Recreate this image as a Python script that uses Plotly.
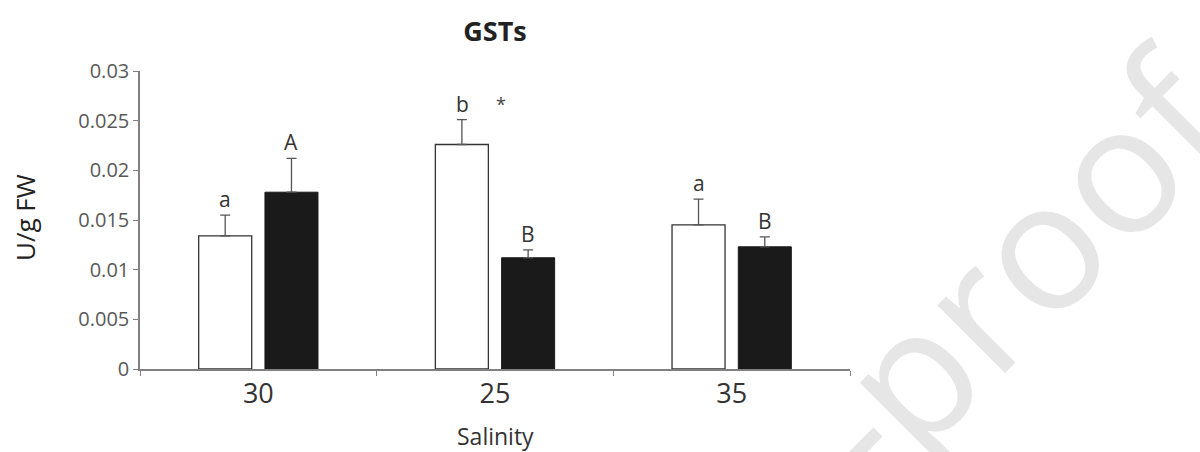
import plotly.graph_objects as go

categories = ["30", "25", "35"]
white_values = [0.0134, 0.0226, 0.0145]
white_errors = [0.0021, 0.0025, 0.0026]
black_values = [0.0178, 0.0112, 0.0123]
black_errors = [0.0034, 0.0008, 0.0010]
white_letters = ["a", "b", "a"]
black_letters = ["A", "B", "B"]
star_category = "25"
y_ticks = [0, 0.005, 0.01, 0.015, 0.02, 0.025, 0.03]
y_tick_labels = ["0", "0.005", "0.01", "0.015", "0.02", "0.025", "0.03"]

FONT = "Open Sans"
fig = go.Figure()
fig.add_trace(go.Bar(
    x=categories, y=white_values, name="white",
    marker=dict(color="white", line=dict(color="#333333", width=1.3)),
    error_y=dict(type="data", array=white_errors, arrayminus=[0]*3, symmetric=False,
                 color="#555555", thickness=1.3, width=5),
))
fig.add_trace(go.Bar(
    x=categories, y=black_values, name="black",
    marker=dict(color="#1a1a1a", line=dict(color="#1a1a1a", width=1)),
    error_y=dict(type="data", array=black_errors, arrayminus=[0]*3, symmetric=False,
                 color="#555555", thickness=1.3, width=5),
))

slot_px = 33
ann = []
for i, c in enumerate(categories):
    ann.append(dict(x=i, y=white_values[i] + white_errors[i], xref="x", yref="y",
                    text=white_letters[i], showarrow=False, xshift=-slot_px, yanchor="bottom",
                    font=dict(family=FONT, size=21, color="#333333")))
    ann.append(dict(x=i, y=black_values[i] + black_errors[i], xref="x", yref="y",
                    text=black_letters[i], showarrow=False, xshift=slot_px, yanchor="bottom",
                    font=dict(family=FONT, size=21, color="#333333")))
si = categories.index(star_category)
ann.append(dict(x=si, y=white_values[si] + white_errors[si], xref="x", yref="y",
                text="*", showarrow=False, xshift=6, yanchor="bottom", yshift=2,
                font=dict(family=FONT, size=18, color="#444444")))
# axis titles
ann.append(dict(x=(25 - 140) / 710, y=(369 - 218) / 298, xref="paper", yref="paper",
                text="U/g FW", textangle=-90, showarrow=False, xanchor="center", yanchor="middle",
                font=dict(family=FONT, size=26, color="#222222")))
ann.append(dict(x=0.5, y=(369 - 436) / 298, xref="paper", yref="paper",
                text="Salinity", showarrow=False, xanchor="center", yanchor="middle",
                font=dict(family=FONT, size=23, color="#333333")))
# watermark
ann.append(dict(x=(681 - 140) / 710, y=(369 - 598) / 298, xref="paper", yref="paper",
                text="Journal Pre-proof", textangle=-45, showarrow=False,
                xanchor="center", yanchor="middle",
                font=dict(family=FONT, size=179, color="#e6e6e6")))

fig.update_layout(
    width=1200, height=452,
    margin=dict(l=140, r=350, t=71, b=83, autoexpand=False),
    paper_bgcolor="white", plot_bgcolor="white",
    barmode="group", bargap=0.44, bargroupgap=0.2,
    showlegend=False,
    title=dict(text="<b>GSTs</b>", x=0.5, xref="paper", xanchor="center",
               y=1 - 32 / 452, yref="container", yanchor="middle",
               font=dict(family=FONT, size=27, color="#222222")),
    annotations=ann,
)
fig.update_xaxes(
    type="category", range=[-0.5, 2.5], autorange=False, automargin=False,
    showline=True, linecolor="#808080", linewidth=1.5,
    ticks="outside", tickson="boundaries", ticklen=5, tickcolor="#808080",
    showgrid=False, zeroline=False, tickangle=0,
    tickfont=dict(family=FONT, size=27, color="#333333"),
)
fig.update_yaxes(
    range=[0, 0.03], autorange=False, automargin=False,
    tickvals=y_ticks, ticktext=y_tick_labels,
    showline=True, linecolor="#808080", linewidth=1.5,
    ticks="outside", ticklen=5, tickcolor="#808080",
    showgrid=False, zeroline=False,
    tickfont=dict(family=FONT, size=20, color="#595959"),
)
fig.write_html(
    "out.html",
    config={"displayModeBar": False},
    post_script="document.body.style.margin='0';document.body.style.overflow='hidden';",
)
